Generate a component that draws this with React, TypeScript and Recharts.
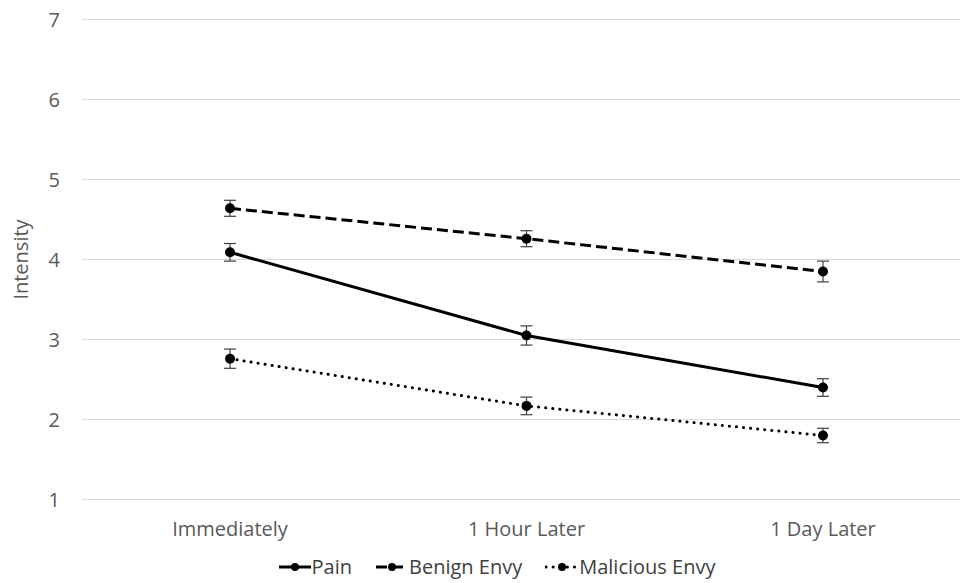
import { LineChart, Line, XAxis, YAxis, CartesianGrid, ErrorBar, Legend } from 'recharts'

const categories = ['Immediately', '1 Hour Later', '1 Day Later']
const pain = [4.09, 3.05, 2.4]
const painErr = [0.11, 0.12, 0.11]
const benignEnvy = [4.64, 4.26, 3.85]
const benignEnvyErr = [0.1, 0.1, 0.13]
const maliciousEnvy = [2.76, 2.17, 1.8]
const maliciousEnvyErr = [0.12, 0.11, 0.09]
const yTicks = [1, 2, 3, 4, 5, 6, 7]

const TEXT = '#595959'
const GRID = '#d9d9d9'
const FONT = 20

const series = [
  { key: 'pain', name: 'Pain', dash: undefined as string | undefined, cap: 'butt' as const },
  { key: 'benign', name: 'Benign Envy', dash: '11 5', cap: 'butt' as const },
  { key: 'malicious', name: 'Malicious Envy', dash: '0.1 7', cap: 'round' as const },
]

const data = categories.map((name, i) => ({
  name,
  pain: pain[i],
  painErr: painErr[i],
  benign: benignEnvy[i],
  benignErr: benignEnvyErr[i],
  malicious: maliciousEnvy[i],
  maliciousErr: maliciousEnvyErr[i],
}))

function LegendContent() {
  return (
    <div style={{ display: 'flex', justifyContent: 'center', alignItems: 'center', paddingLeft: 33, height: 38, boxSizing: 'border-box', transform: 'translateY(13px)' }}>
      {series.map((s, i) => (
        <div key={s.key} style={{ display: 'flex', alignItems: 'center', marginLeft: i === 0 ? 0 : 23 }}>
          <svg width={34} height={12}>
            <line x1={1} y1={6} x2={33} y2={6} stroke="#000" strokeWidth={3} strokeDasharray={s.dash} strokeLinecap={s.cap} />
            <circle cx={17} cy={6} r={4} fill="#000" />
          </svg>
          <span style={{ fontSize: FONT, color: '#404040', lineHeight: 1 }}>{s.name}</span>
        </div>
      ))}
    </div>
  )
}

export default function App() {
  return (
    <div style={{ position: 'absolute', left: 0, top: 0, width: 960, height: 583, overflow: 'hidden', background: '#fff', fontFamily: '"Open Sans", sans-serif' }}>
      <LineChart width={960} height={583} data={data} margin={{ top: 19.5, right: 0, bottom: 10, left: 0 }}>
        <CartesianGrid vertical={false} stroke={GRID} strokeWidth={1} />
        <XAxis
          dataKey="name"
          axisLine={false}
          tickLine={false}
          tickSize={0}
          tickMargin={22}
          height={35.5}
          padding={{ left: 148, right: 137 }}
          tick={{ fill: TEXT, fontSize: FONT }}
        />
        <YAxis
          domain={[1, 7]}
          ticks={yTicks}
          width={82}
          axisLine={false}
          tickLine={false}
          tickSize={0}
          tickMargin={22}
          tick={{ fill: TEXT, fontSize: FONT }}
          label={(props: any) => {
            const vb = props.viewBox
            const cx = vb.x + 20.5
            const cy = vb.y + vb.height / 2
            return (
              <text x={cx} y={cy} transform={`rotate(-90 ${cx} ${cy})`} textAnchor="middle" dominantBaseline="central" fill={TEXT} fontSize={FONT}>
                Intensity
              </text>
            )
          }}
        />
        <Legend verticalAlign="bottom" height={38} content={() => <LegendContent />} />
        {series.map((s) => (
          <Line
            key={s.key}
            dataKey={s.key}
            name={s.name}
            stroke="#000"
            strokeWidth={3}
            strokeDasharray={s.dash}
            strokeLinecap={s.cap}
            dot={{ r: 5, fill: '#000', stroke: 'none' }}
            activeDot={false}
            isAnimationActive={false}
          >
            <ErrorBar dataKey={`${s.key}Err`} direction="y" width={6} stroke="#404040" strokeWidth={1.2} />
          </Line>
        ))}
      </LineChart>
    </div>
  )
}
